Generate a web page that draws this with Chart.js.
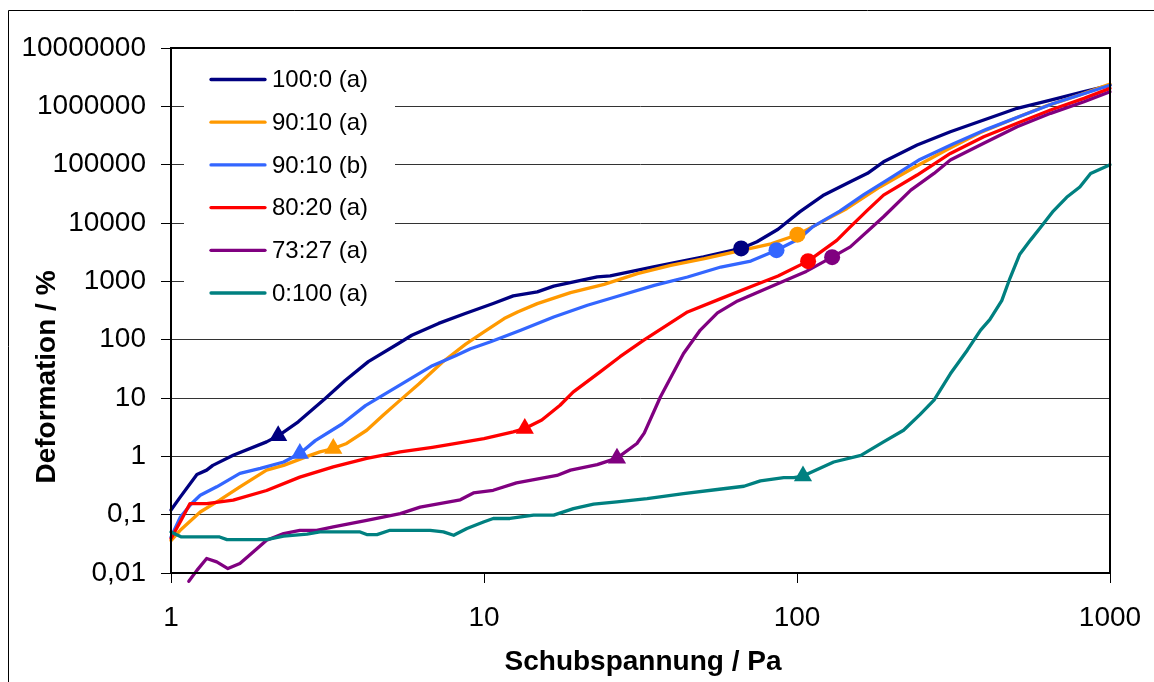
<!DOCTYPE html>
<html>
<head>
<meta charset="utf-8">
<title>Deformation / Schubspannung</title>
<script src="https://cdn.jsdelivr.net/npm/chart.js@4.4.1/dist/chart.umd.min.js"></script>
<style>
  html, body { margin: 0; padding: 0; background: #ffffff; }
  #wrap { position: relative; width: 1154px; height: 682px; }
</style>
</head>
<body>
<div id="wrap"><canvas id="chart" width="1154" height="682"></canvas></div>
<script>
// Mischungsverhältnisse (Legende)
const seriesNames = ['100:0 (a)', '90:10 (a)', '90:10 (b)', '80:20 (a)', '73:27 (a)', '0:100 (a)'];

// Messkurven: [Schubspannung / Pa, Deformation / %]
const curve100_0a = [[1, 0.12], [1.07, 0.2], [1.21, 0.49], [1.3, 0.58], [1.36, 0.7], [1.58, 1.04], [2.02, 1.77], [2.2, 2.25], [2.55, 3.9], [3.11, 9.8], [3.6, 20], [4.27, 42], [5.33, 86], [5.88, 119], [7.16, 190], [8.71, 281], [10.7, 418], [12.4, 564], [14.8, 661], [16.7, 828], [23, 1195], [25.3, 1240], [34.8, 1775], [50.3, 2630], [66.3, 3660], [74.5, 4770], [87, 7800], [102, 15500], [121, 29500], [148, 51000], [168, 71000], [189, 112000], [242, 217000], [309, 366000], [395, 582000], [505, 925000], [646, 1280000], [826, 1780000], [1000, 2300000]];
const curve90_10a = [[1, 0.036], [1.07, 0.054], [1.24, 0.111], [1.43, 0.177], [1.66, 0.3], [2.02, 0.58], [2.29, 0.7], [2.78, 1.04], [2.99, 1.19], [3.3, 1.36], [3.64, 1.66], [4.22, 2.8], [4.77, 5.1], [5.4, 9.2], [6.19, 17.4], [7.36, 41], [8.74, 84], [10, 136], [11.6, 230], [12.8, 299], [14.8, 415], [18.9, 640], [24.2, 889], [30.9, 1353], [39.5, 1880], [50.6, 2445], [66.5, 3390], [82.6, 4400], [100.3, 6300], [118, 9950], [144, 17600], [184, 41500], [235, 87700], [300, 178000], [384, 352000], [491, 606000], [627, 1020000], [801, 1570000], [1000, 2400000]];
const curve90_10b = [[1, 0.041], [1.07, 0.09], [1.16, 0.152], [1.24, 0.215], [1.4, 0.3], [1.66, 0.51], [1.93, 0.62], [2.29, 0.8], [2.58, 1.12], [2.89, 1.86], [3.52, 3.58], [4.18, 7.4], [5.35, 16.3], [6.84, 35.8], [8.11, 53], [9.06, 70], [10.5, 92], [13.1, 145], [16.7, 245], [21.4, 389], [27.4, 577], [35, 855], [44.7, 1187], [57.1, 1760], [71.2, 2230], [86, 3420], [101.6, 5370], [112.5, 8690], [137, 16000], [163, 30300], [198, 58300], [247, 123000], [315, 227000], [403, 403000], [516, 676000], [659, 1120000], [1000, 2300000]];
const curve80_20a = [[1, 0.039], [1.07, 0.075], [1.15, 0.155], [1.3, 0.155], [1.58, 0.177], [2.02, 0.26], [2.58, 0.44], [3.3, 0.66], [4.22, 0.92], [5.4, 1.19], [6.84, 1.43], [7.8, 1.6], [10, 2.02], [12.4, 2.62], [13.5, 3.0], [15.3, 4.2], [17.5, 7.5], [19.3, 12.7], [23.5, 28], [27.2, 51], [32.4, 98], [44.7, 299], [57.1, 505], [73.1, 855], [87, 1235], [108.5, 2220], [134, 5040], [148, 8600], [168, 16600], [189, 30100], [242, 66400], [309, 156000], [395, 301000], [505, 511000], [646, 865000], [826, 1370000], [1000, 2030000]];
const curve73_27a = [[1.14, 0.0072], [1.21, 0.0111], [1.3, 0.0177], [1.4, 0.0155], [1.52, 0.0119], [1.66, 0.0145], [1.83, 0.0229], [2.02, 0.0364], [2.29, 0.0473], [2.58, 0.054], [2.92, 0.054], [3.3, 0.0615], [4.22, 0.08], [5.4, 0.104], [6.25, 0.135], [8.4, 0.18], [9.25, 0.236], [10.7, 0.262], [12.7, 0.35], [17.1, 0.47], [18.9, 0.58], [23, 0.72], [26.6, 0.93], [30.8, 1.66], [32.5, 2.5], [36.6, 10.4], [43.4, 58], [49.1, 146], [55.7, 287], [64.6, 461], [73.1, 615], [86.7, 912], [107, 1480], [129.5, 2600], [148, 3900], [189, 12800], [231, 36600], [274, 70800], [309, 120000], [395, 232000], [505, 447000], [646, 759000], [826, 1200000], [1000, 1780000]];
const curve0_100a = [[1, 0.0506], [1.08, 0.0415], [1.43, 0.0415], [1.51, 0.0374], [2.02, 0.0374], [2.29, 0.0427], [2.72, 0.0462], [2.99, 0.0506], [4.02, 0.0506], [4.22, 0.0456], [4.55, 0.0456], [5.01, 0.054], [6.73, 0.054], [7.42, 0.0506], [8.0, 0.0444], [8.82, 0.058], [9.96, 0.075], [10.7, 0.086], [12.1, 0.086], [14.4, 0.098], [16.7, 0.098], [19.3, 0.127], [22.4, 0.151], [26.6, 0.165], [33.2, 0.188], [43.4, 0.23], [55.6, 0.27], [67.7, 0.307], [76.4, 0.38], [90.7, 0.43], [97.7, 0.43], [104.5, 0.46], [131, 0.8], [160, 1.04], [189, 1.77], [219, 2.8], [247, 5.2], [274, 9.2], [309, 26], [350, 66], [386, 146], [413, 220], [451, 466], [479, 1128], [515, 2920], [557, 5090], [597, 8110], [659, 16000], [727, 27600], [801, 41500], [867, 70800], [1000, 100000]];

// Kennpunkte je Kurve (Dreieck bzw. Kreis), gleiche Reihenfolge wie seriesNames
const trianglePoints = [[2.2, 2.25], [3.3, 1.36], [2.58, 1.12], [13.5, 3.0], [26.6, 0.93], [104.5, 0.46]];
const circlePoints = [[66.3, 3660], [100.3, 6300], [86, 3420], [108.5, 2220], [129.5, 2600]];

// Achsenteilung
const xTicks = [1, 10, 100, 1000];
const yTicks = [0.01, 0.1, 1, 10, 100, 1000, 10000, 100000, 1000000, 10000000];

const curves = [curve100_0a, curve90_10a, curve90_10b, curve80_20a, curve73_27a, curve0_100a];
const seriesColors = ['#000080', '#FF9900', '#3366FF', '#FF0000', '#800080', '#008080'];
const FONT = "'Liberation Sans', Arial, Helvetica, sans-serif";

const toXY = pts => pts.map(([x, y]) => ({ x, y }));
const fmt = v => (v >= 1 ? String(v) : String(v).replace('.', ','));

const datasets = curves.map((pts, i) => ({
  type: 'line',
  label: seriesNames[i],
  data: toXY(pts),
  borderColor: seriesColors[i],
  backgroundColor: seriesColors[i],
  borderWidth: 3.3,
  borderJoinStyle: 'round',
  borderCapStyle: 'round',
  pointRadius: 0,
  tension: 0,
  fill: false,
  clip: false,
  order: 10 - i
}));

datasets.push({
  type: 'scatter',
  label: 'triangles',
  data: toXY(trianglePoints),
  pointStyle: 'triangle',
  pointRadius: 10.5,
  pointBorderWidth: 0,
  pointBackgroundColor: seriesColors,
  showLine: false,
  clip: false,
  order: -1
});
datasets.push({
  type: 'scatter',
  label: 'circles',
  data: toXY(circlePoints),
  pointStyle: 'circle',
  pointRadius: 8,
  pointBorderWidth: 0,
  pointBackgroundColor: seriesColors.slice(0, circlePoints.length),
  showLine: false,
  clip: false,
  order: -1
});

// Rahmen, Legende und Achsentitel
const decor = {
  id: 'decor',
  afterDatasetsDraw(chart) {
    const ctx = chart.ctx;
    ctx.save();
    // Legendenfeld
    ctx.fillStyle = '#ffffff';
    ctx.fillRect(184, 56, 211, 257);
    ctx.font = '24px ' + FONT;
    ctx.textBaseline = 'middle';
    ctx.textAlign = 'left';
    seriesNames.forEach((name, i) => {
      const y = 79.5 + i * 42.7;
      ctx.strokeStyle = seriesColors[i];
      ctx.lineWidth = 3.3;
      ctx.lineCap = 'round';
      ctx.beginPath();
      ctx.moveTo(211, y);
      ctx.lineTo(265, y);
      ctx.stroke();
      ctx.fillStyle = '#000000';
      ctx.fillText(name, 272, y + 1);
    });
    ctx.restore();
  },
  afterDraw(chart) {
    const ctx = chart.ctx;
    const a = chart.chartArea;
    ctx.save();
    // Zeichnungsfläche
    ctx.strokeStyle = '#000000';
    ctx.lineWidth = 2;
    ctx.strokeRect(a.left, a.top, a.right - a.left, a.bottom - a.top);
    // Diagrammrahmen
    ctx.lineWidth = 1;
    ctx.beginPath();
    ctx.moveTo(8.5, 682);
    ctx.lineTo(8.5, 10.5);
    ctx.lineTo(1154, 10.5);
    ctx.stroke();
    // Achsentitel
    ctx.fillStyle = '#000000';
    ctx.font = 'bold 28px ' + FONT;
    ctx.textAlign = 'center';
    ctx.textBaseline = 'alphabetic';
    ctx.fillText('Schubspannung / Pa', 643, 670);
    ctx.translate(55, 377);
    ctx.rotate(-Math.PI / 2);
    ctx.fillText('Deformation / %', 0, 0);
    ctx.restore();
  }
};

new Chart(document.getElementById('chart'), {
  type: 'line',
  data: { datasets },
  plugins: [decor],
  options: {
    responsive: false,
    animation: false,
    events: [],
    layout: { padding: { top: 48, right: 44, left: 0, bottom: 0 } },
    plugins: { legend: { display: false }, tooltip: { enabled: false } },
    scales: {
      x: {
        type: 'logarithmic',
        position: 'bottom',
        min: 1,
        max: 1000,
        afterBuildTicks: s => { s.ticks = xTicks.map(v => ({ value: v })); },
        afterFit: s => { s.height = 109; s.paddingLeft = 0; s.paddingRight = 0; },
        ticks: {
          callback: v => fmt(v),
          font: { family: FONT, size: 28 },
          color: '#000000',
          padding: 18,
          maxRotation: 0,
          autoSkip: false
        },
        grid: { drawOnChartArea: false, drawTicks: true, tickLength: 10, color: '#000000', lineWidth: 1 },
        border: { display: false }
      },
      y: {
        type: 'logarithmic',
        position: 'left',
        min: 0.01,
        max: 10000000,
        afterBuildTicks: s => { s.ticks = yTicks.map(v => ({ value: v })); },
        afterFit: s => { s.width = 171; s.paddingTop = 0; s.paddingBottom = 0; },
        ticks: {
          callback: v => fmt(v),
          font: { family: FONT, size: 28 },
          color: '#000000',
          padding: 15,
          autoSkip: false
        },
        grid: { color: '#333333', lineWidth: 1, drawTicks: true, tickLength: 10, tickColor: '#000000' },
        border: { display: false }
      }
    }
  }
});
</script>
</body>
</html>
